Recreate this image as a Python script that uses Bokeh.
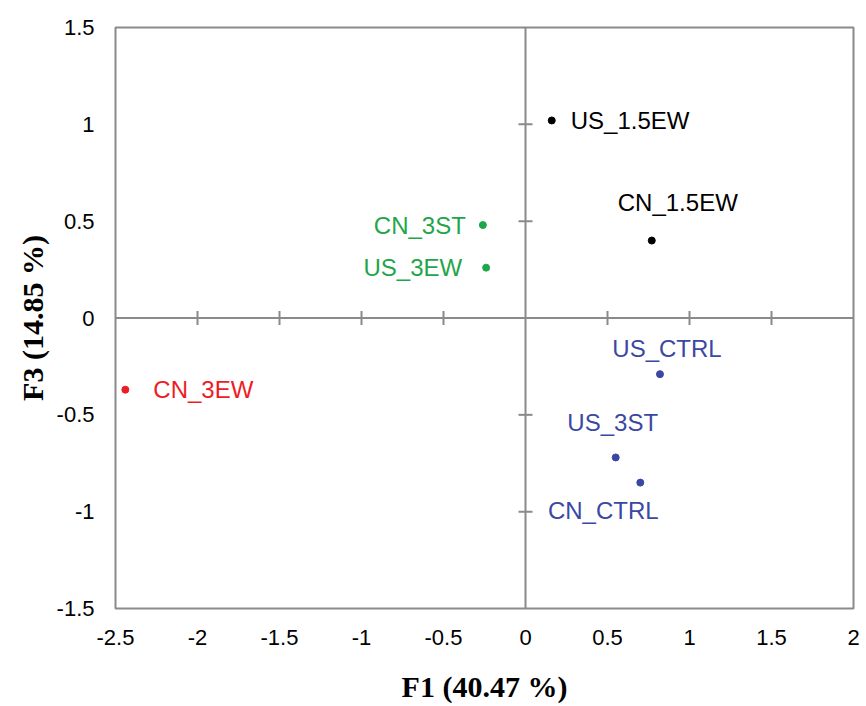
import math
from bokeh.plotting import figure
from bokeh.models import ColumnDataSource, Span, FixedTicker
from bokeh.core.properties import value
from bokeh.embed import file_html
from bokeh.resources import INLINE

# ---- data ----
names = ["US_1.5EW", "CN_1.5EW", "CN_3ST", "US_3EW", "CN_3EW", "US_CTRL", "US_3ST", "CN_CTRL"]
f1 = [0.16, 0.77, -0.26, -0.24, -2.44, 0.82, 0.55, 0.70]
f3 = [1.02, 0.40, 0.48, 0.26, -0.37, -0.29, -0.72, -0.85]
groups = ["k", "k", "g", "g", "r", "b", "b", "b"]
x_ticks = [-2.5, -2, -1.5, -1, -0.5, 0, 0.5, 1, 1.5, 2]
y_ticks = [-1.5, -1, -0.5, 0, 0.5, 1, 1.5]
x_title = "F1 (40.47 %)"
y_title = "F3 (14.85 %)"

# ---- styling ----
palette = {"k": "#000000", "g": "#1FA64A", "r": "#EE1C25", "b": "#3B48A3"}
# label placement (pixel offsets, alignment) per point
placement = {
    "US_1.5EW": (19, 0, "left"),
    "CN_1.5EW": (26, -38, "center"),
    "CN_3ST": (-17, 0, "right"),
    "US_3EW": (-24, 0, "right"),
    "CN_3EW": (28, 0, "left"),
    "US_CTRL": (7, -26, "center"),
    "US_3ST": (-3, -35, "center"),
    "CN_CTRL": (-37, 28, "center"),
}
grey = "#8A8A8A"

colors = [palette[g] for g in groups]
src = ColumnDataSource(dict(
    x=f1, y=f3, name=names, color=colors,
    xo=[placement[n][0] for n in names],
    yo=[placement[n][1] for n in names],
    al=[placement[n][2] for n in names],
))

p = figure(frame_width=738, frame_height=581, width=866, height=706,
           x_range=(x_ticks[0], x_ticks[-1]), y_range=(y_ticks[0], y_ticks[-1]),
           output_backend="svg", toolbar_location=None,
           min_border_left=115, min_border_right=13, min_border_top=27, min_border_bottom=98)
p.background_fill_color = "white"
p.border_fill_color = "white"
p.grid.visible = False
p.outline_line_color = grey
p.outline_line_width = 2

p.xaxis.ticker = FixedTicker(ticks=x_ticks)
p.yaxis.ticker = FixedTicker(ticks=y_ticks)
for ax in (p.xaxis[0], p.yaxis[0]):
    ax.axis_line_color = None
    ax.major_tick_line_color = None
    ax.minor_tick_line_color = None
    ax.major_tick_in = 0
    ax.major_tick_out = 0
    ax.major_label_text_font = "Liberation Sans"
    ax.major_label_text_font_size = "22px"
    ax.major_label_text_color = "#000000"
    ax.axis_label_text_font = "Liberation Serif"
    ax.axis_label_text_font_style = "bold"
    ax.axis_label_text_font_size = "30px"
    ax.axis_label_text_color = "#000000"
p.xaxis.axis_label = x_title
p.yaxis.axis_label = y_title
p.xaxis.major_label_standoff = 21
p.yaxis.major_label_standoff = 21
p.xaxis.axis_label_standoff = 22
p.yaxis.axis_label_standoff = 5
p.xaxis.major_label_overrides = {t: f"{t:g}" for t in x_ticks}
p.yaxis.major_label_overrides = {t: f"{t:g}" for t in y_ticks}

# central axes
p.add_layout(Span(location=0, dimension="height", line_color=grey, line_width=2))
p.add_layout(Span(location=0, dimension="width", line_color=grey, line_width=2))
xt_inner = [t for t in x_ticks if t not in (0, x_ticks[0], x_ticks[-1])]
yt_inner = [t for t in y_ticks if t not in (0, y_ticks[0], y_ticks[-1])]
p.scatter(x=xt_inner, y=[0] * len(xt_inner), marker="dash", size=14, angle=math.pi / 2,
          line_color=grey, line_width=2)
p.scatter(x=[0] * len(yt_inner), y=yt_inner, marker="dash", size=14,
          line_color=grey, line_width=2)

# points
p.scatter("x", "y", source=src, size=7, fill_color="color", line_color="color")
p.text("x", "y", text="name", source=src, x_offset="xo", y_offset="yo",
       text_align="al", text_baseline="middle", text_color="color",
       text_font=value("Liberation Sans"), text_font_size="24px")

open("out.html", "w").write(file_html(p, INLINE))
